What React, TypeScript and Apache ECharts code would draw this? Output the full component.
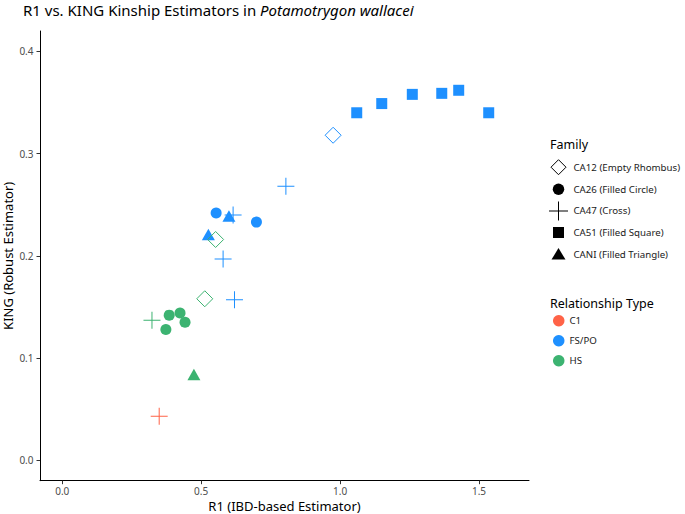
import React, { useEffect, useRef } from "react";
import * as echarts from "echarts";

const FONT = "Noto Sans";

// Axis ticks
const xTicks = [0, 0.5, 1.0, 1.5];
const yTicks = [0, 0.1, 0.2, 0.3, 0.4];

// Legend categories
const families = [
  "CA12 (Empty Rhombus)",
  "CA26 (Filled Circle)",
  "CA47 (Cross)",
  "CA51 (Filled Square)",
  "CANI (Filled Triangle)",
];
const relTypes = ["C1", "FS/PO", "HS"];
const relColors = ["#FF6347", "#1E90FF", "#3CB371"];

// CA12 (empty rhombus)
const ca12R1 = [0.975, 0.552, 0.513];
const ca12King = [0.318, 0.216, 0.158];
const ca12Rel = ["FS/PO", "HS", "HS"];

// CA26 (filled circle)
const ca26R1 = [0.554, 0.699, 0.385, 0.424, 0.442, 0.373];
const ca26King = [0.242, 0.233, 0.142, 0.144, 0.135, 0.128];
const ca26Rel = ["FS/PO", "FS/PO", "HS", "HS", "HS", "HS"];

// CA47 (cross)
const ca47R1 = [0.805, 0.615, 0.579, 0.62, 0.323, 0.349];
const ca47King = [0.268, 0.24, 0.197, 0.157, 0.137, 0.043];
const ca47Rel = ["FS/PO", "FS/PO", "FS/PO", "FS/PO", "HS", "C1"];

// CA51 (filled square)
const ca51R1 = [1.06, 1.15, 1.26, 1.366, 1.427, 1.535];
const ca51King = [0.34, 0.349, 0.358, 0.359, 0.362, 0.34];
const ca51Rel = ["FS/PO", "FS/PO", "FS/PO", "FS/PO", "FS/PO", "FS/PO"];

// CANI (filled triangle)
const caniR1 = [0.6, 0.526, 0.474];
const caniKing = [0.239, 0.221, 0.084];
const caniRel = ["FS/PO", "FS/PO", "HS"];

const relColor = (r: string) => relColors[relTypes.indexOf(r)];

const CROSS_PLOT = "path://M0,8H17V9H0Z M8,0H9V17H8Z";

const legendIcons = [
  "path://M0,0M20,20M10,2.5L17.5,10L10,17.5L2.5,10Z",
  "path://M0,0M20,20M4.25,10A5.75,5.75 0 1 0 15.75,10A5.75,5.75 0 1 0 4.25,10Z",
  "path://M0,0M20,20M0.5,9.5H19.5V10.5H0.5Z M9.5,0.5H10.5V19.5H9.5Z",
  "path://M0,0M20,20M4.5,4.5H15.5V15.5H4.5Z",
  "path://M0,0M20,20M10,4L17,15.5H3Z",
];

function filledData(xs: number[], ys: number[], rels: string[]) {
  return xs.map((x, i) => ({
    value: [x, ys[i]],
    itemStyle: { color: relColor(rels[i]), opacity: 1 },
  }));
}

function emptyData(xs: number[], ys: number[], rels: string[]) {
  return xs.map((x, i) => ({
    value: [x, ys[i]],
    itemStyle: { color: "transparent", borderColor: relColor(rels[i]), borderWidth: 1, opacity: 1 },
  }));
}

export default function App() {
  const ref = useRef<HTMLDivElement>(null);
  useEffect(() => {
    if (!ref.current) return;
    const chart = echarts.init(ref.current, undefined, { renderer: "svg" });
    const axisCommon = {
      type: "value" as const,
      nameLocation: "middle" as const,
      nameMoveOverlap: false,
      splitLine: { show: false },
      axisLine: { show: true, onZero: false, lineStyle: { color: "#000", width: 1 } },
    };
    chart.setOption({
      animation: false,
      textStyle: { fontFamily: FONT },
      title: [
        {
          text: "{a|R1 vs. KING Kinship Estimators in }{b|Potamotrygon wallacei}",
          left: 23,
          top: 2,
          padding: 0,
          textStyle: {
            fontWeight: "normal",
            rich: {
              a: { fontSize: 15, color: "#000", fontWeight: "normal", fontFamily: FONT },
              b: { fontSize: 15, color: "#000", fontWeight: "normal", fontStyle: "italic", fontFamily: FONT },
            },
          },
        },
        {
          text: "Family",
          left: 550,
          top: 138,
          padding: 0,
          textStyle: { fontSize: 12.5, fontWeight: "normal", color: "#000", fontFamily: FONT },
        },
        {
          text: "Relationship Type",
          left: 550,
          top: 297,
          padding: 0,
          textStyle: { fontSize: 12.5, fontWeight: "normal", color: "#000", fontFamily: FONT },
        },
      ],
      grid: { left: 40, right: 156, top: 31, bottom: 33.3, containLabel: false, outerBoundsMode: "none" },
      xAxis: {
        ...axisCommon,
        min: -0.08,
        max: 1.68,
        name: "R1 (IBD-based Estimator)",
        nameGap: 25,
        nameTextStyle: { fontSize: 13, color: "#000", fontFamily: FONT, verticalAlign: "middle" },
        axisTick: { show: true, customValues: xTicks, length: 3.5, lineStyle: { color: "#333" } },
        axisLabel: {
          customValues: xTicks,
          formatter: (v: number) => v.toFixed(1),
          color: "#4d4d4d",
          fontSize: 10,
          margin: 5,
          fontFamily: FONT,
        },
      },
      yAxis: {
        ...axisCommon,
        min: -0.02,
        max: 0.42,
        name: "KING (Robust Estimator)",
        nameGap: 32,
        nameTextStyle: { fontSize: 13, color: "#000", fontFamily: FONT, verticalAlign: "middle" },
        axisTick: { show: true, customValues: yTicks, length: 3.5, lineStyle: { color: "#333" } },
        axisLabel: {
          customValues: yTicks,
          formatter: (v: number) => v.toFixed(1),
          color: "#4d4d4d",
          fontSize: 10,
          margin: 6.5,
          fontFamily: FONT,
        },
      },
      legend: [
        {
          orient: "vertical",
          left: 548,
          top: 156.7,
          padding: 0,
          itemWidth: 20,
          itemHeight: 20,
          itemGap: 1.6,
          itemTextGap: 9,
          selectedMode: false,
          textStyle: { fontSize: 9.7, color: "#1a1a1a", fontFamily: FONT },
          data: families.map((f, i) => ({
            name: f,
            icon: legendIcons[i],
            itemStyle:
              i === 0
                ? { color: "transparent", borderColor: "#000", borderWidth: 1, opacity: 1 }
                : { color: "#000", borderWidth: 0, opacity: 1 },
          })),
        },
        {
          orient: "vertical",
          left: 553,
          top: 315,
          padding: 0,
          itemWidth: 11.5,
          itemHeight: 11.5,
          itemGap: 8.5,
          itemTextGap: 12.5,
          icon: "circle",
          selectedMode: false,
          textStyle: { fontSize: 9.7, color: "#1a1a1a", fontFamily: FONT },
          data: relTypes.map((r, i) => ({ name: r, itemStyle: { color: relColors[i], opacity: 1 } })),
        },
      ],
      series: [
        {
          type: "scatter",
          name: families[1],
          symbol: "circle",
          symbolSize: 11,
          silent: true,
          itemStyle: { opacity: 1 },
          data: filledData(ca26R1, ca26King, ca26Rel),
        },
        {
          type: "scatter",
          name: families[3],
          symbol: "rect",
          symbolSize: 11,
          silent: true,
          itemStyle: { opacity: 1 },
          data: filledData(ca51R1, ca51King, ca51Rel),
        },
        {
          type: "scatter",
          name: families[4],
          symbol: "triangle",
          symbolSize: [13, 11.5],
          silent: true,
          itemStyle: { opacity: 1 },
          data: filledData(caniR1, caniKing, caniRel),
        },
        {
          type: "scatter",
          name: families[2],
          symbol: CROSS_PLOT,
          symbolSize: 17,
          silent: true,
          itemStyle: { opacity: 1 },
          data: filledData(ca47R1, ca47King, ca47Rel),
        },
        {
          type: "scatter",
          name: families[0],
          symbol: "diamond",
          symbolSize: 16,
          silent: true,
          itemStyle: { opacity: 1 },
          data: emptyData(ca12R1, ca12King, ca12Rel),
        },
        ...relTypes.map((r, i) => ({
          type: "scatter",
          name: r,
          symbol: "circle",
          itemStyle: { color: relColors[i], opacity: 1 },
          data: [],
        })),
      ],
    });
    return () => chart.dispose();
  }, []);
  return (
    <div
      ref={ref}
      style={{ position: "fixed", left: 0, top: 0, width: 685, height: 514, background: "#fff" }}
    />
  );
}
